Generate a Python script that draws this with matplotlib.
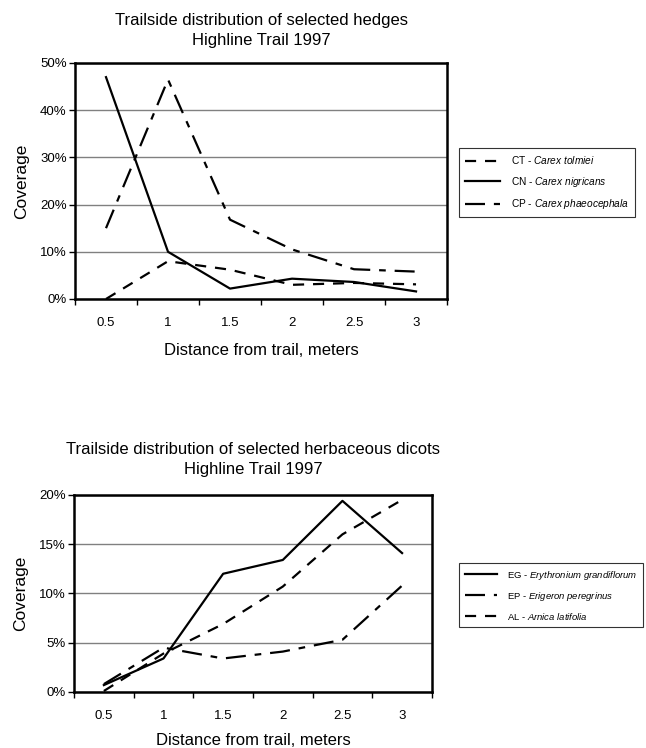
import matplotlib
matplotlib.use("Agg")
import matplotlib.pyplot as plt
from matplotlib.ticker import FuncFormatter, FixedLocator

plt.rcParams["font.family"] = ["Liberation Sans", "DejaVu Sans"]
plt.rcParams["mathtext.fontset"] = "custom"
plt.rcParams["mathtext.rm"] = "Liberation Sans"
plt.rcParams["mathtext.it"] = "Liberation Sans:italic"

# distance categories
distances = ["0.5", "1", "1.5", "2", "2.5", "3"]

# hedges (coverage, %)
ct_tolmiei = [0.0, 8.0, 6.2, 3.0, 3.4, 3.1]
cn_nigricans = [47.0, 10.0, 2.2, 4.3, 3.6, 1.6]
cp_phaeocephala = [15.0, 46.5, 16.8, 10.5, 6.3, 5.8]

# herbaceous dicots (coverage, %)
eg_grandiflorum = [0.7, 3.4, 12.0, 13.4, 19.4, 14.1]
ep_peregrinus = [0.8, 4.5, 3.4, 4.1, 5.3, 10.8]
al_latifolia = [0.1, 3.9, 6.9, 10.7, 16.0, 19.5]

dashed = (0, (5, 4))
dashdot = (0, (9, 4, 3, 4))

fig = plt.figure(figsize=(6.46, 7.48), dpi=100)


def style_axes(ax, ymax, step, xlabelpad):
    x = list(range(len(distances)))
    ax.set_xlim(-0.5, len(distances) - 0.5)
    ax.set_ylim(0, ymax)
    ax.set_xticks(x)
    ax.set_xticklabels(distances)
    ax.xaxis.set_minor_locator(FixedLocator([i - 0.5 for i in range(len(distances) + 1)]))
    ax.tick_params(axis="x", which="major", length=0, labelsize=9.5, pad=13)
    ax.tick_params(axis="x", which="minor", length=4, width=1, direction="out")
    ax.set_yticks(range(0, ymax + 1, step))
    ax.yaxis.set_major_formatter(FuncFormatter(lambda v, p: "%d%%" % v))
    ax.tick_params(axis="y", length=4, width=1, direction="out", labelsize=9.5, pad=2)
    ax.grid(axis="y", color="#808080", linewidth=1)
    ax.set_axisbelow(True)
    for s in ax.spines.values():
        s.set_linewidth(1.8)
        s.set_color("black")
    ax.set_ylabel("Coverage", fontsize=12.5, labelpad=8)
    ax.set_xlabel("Distance from trail, meters", fontsize=12, labelpad=xlabelpad)


def add_legend(ax, top_px, size):
    leg = fig.legend(handles=ax.get_lines(), loc="upper left",
                     bbox_to_anchor=(459 / 646, 1 - top_px / 748), borderaxespad=0,
                     fontsize=size, frameon=True, fancybox=False, edgecolor="black",
                     handlelength=3.4, labelspacing=0.85, borderpad=0.6,
                     handletextpad=1.1)
    leg.get_frame().set_linewidth(0.8)
    return leg


x = range(len(distances))

# top chart
ax1 = fig.add_axes([0.1161, 0.6003, 0.5759, 0.3155])
ax1.plot(x, ct_tolmiei, color="black", lw=1.6, linestyle=dashed,
         label=r"CT - $\it{Carex\ tolmiei}$")
ax1.plot(x, cn_nigricans, color="black", lw=1.6, linestyle="-",
         label=r"CN - $\it{Carex\ nigricans}$")
ax1.plot(x, cp_phaeocephala, color="black", lw=1.6, linestyle=dashdot,
         label=r"CP - $\it{Carex\ phaeocephala}$")
style_axes(ax1, 50, 10, 10)
ax1.set_title("Trailside distribution of selected hedges\nHighline Trail 1997",
              fontsize=12, pad=13, linespacing=1.45)
add_legend(ax1, 148, 7.3)

# bottom chart
ax2 = fig.add_axes([0.1146, 0.0749, 0.554, 0.2634])
ax2.plot(x, eg_grandiflorum, color="black", lw=1.6, linestyle="-",
         label=r"EG - $\it{Erythronium\ grandiflorum}$")
ax2.plot(x, ep_peregrinus, color="black", lw=1.6, linestyle=dashdot,
         label=r"EP - $\it{Erigeron\ peregrinus}$")
ax2.plot(x, al_latifolia, color="black", lw=1.6, linestyle=dashed,
         label=r"AL - $\it{Arnica\ latifolia}$")
style_axes(ax2, 20, 5, 8)
ax2.set_title("Trailside distribution of selected herbaceous dicots\nHighline Trail 1997",
              fontsize=12, pad=15, linespacing=1.45)
add_legend(ax2, 563, 6.8)

fig.savefig("out.png", dpi=100)
